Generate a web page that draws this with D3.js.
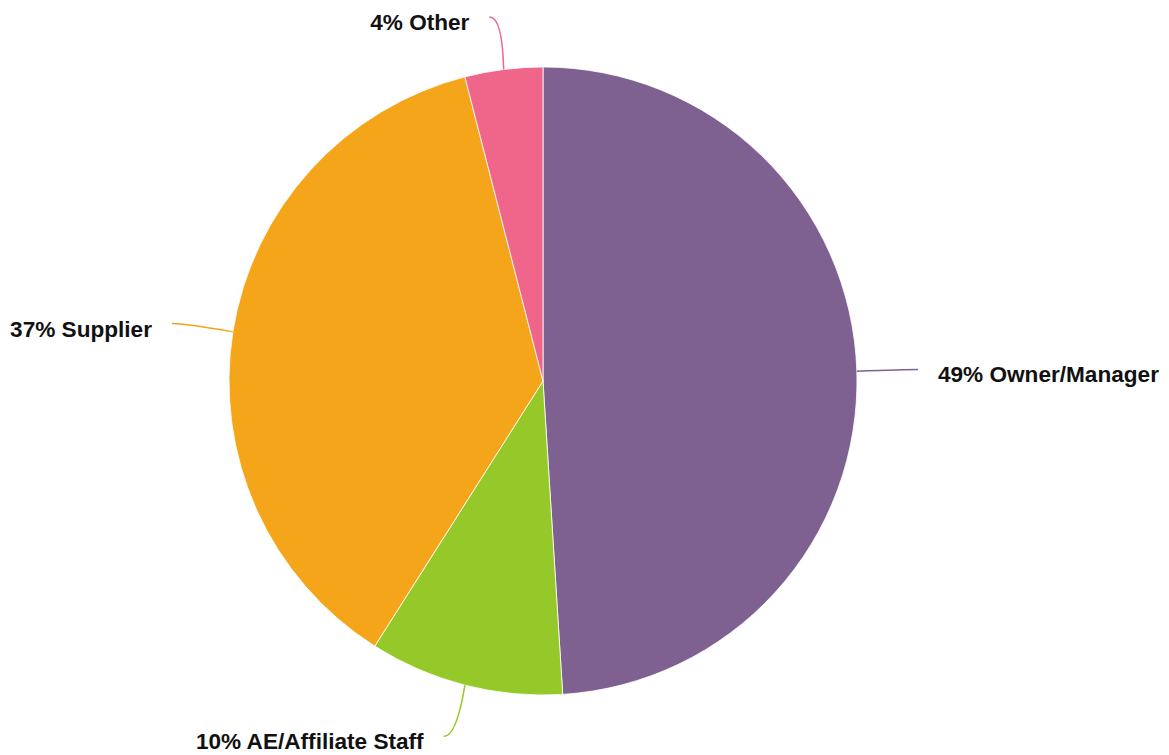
<!DOCTYPE html>
<html>
<head>
<meta charset="utf-8">
<script src="https://cdn.jsdelivr.net/npm/d3@7"></script>
<style>
  html, body { margin: 0; padding: 0; background: #fff; }
  svg { display: block; }
  .lbl { font-family: "Liberation Sans", Arial, Helvetica, sans-serif; font-weight: bold; font-size: 22.6px; fill: #111; }
</style>
</head>
<body>
<svg id="chart" width="1169" height="755"></svg>
<script>
// Respondent roles, in clockwise order from 12 o'clock
const categories = ["Owner/Manager", "AE/Affiliate Staff", "Supplier", "Other"];
const values = [49, 10, 37, 4];
const colors = ["#7e6190", "#95c829", "#f4a51a", "#f0658a"];

const W = 1169, H = 755;
const cx = 543, cy = 381, R = 314;

const svg = d3.select("#chart");
const g = svg.append("g").attr("transform", `translate(${cx},${cy})`);

const pie = d3.pie().sort(null).value(d => d.value);
const arcs = pie(categories.map((c, i) => ({ name: c, value: values[i], color: colors[i] })));
const arc = d3.arc().innerRadius(0).outerRadius(R);

g.selectAll("path.slice")
  .data(arcs)
  .join("path")
  .attr("class", "slice")
  .attr("d", arc)
  .attr("fill", d => d.data.color)
  .attr("stroke", "#fff")
  .attr("stroke-width", 0.8)
  .attr("stroke-linejoin", "round");

arcs.forEach(d => {
  const mid = (d.startAngle + d.endAngle) / 2;
  const s = Math.sin(mid), c0 = Math.cos(mid);
  const right = s > 0;
  const dir = right ? 1 : -1;
  const p0 = [R * s, -R * c0];
  // connector end on a slightly flattened ring, nudged toward the label side
  const e = [(R + 58) * s + dir * (3 + 4 * Math.abs(c0)), -(R + 53) * c0];
  // control point pulled horizontally toward the pie so the connector ends level
  const c = [e[0] - dir * 13, e[1]];
  g.append("path")
    .attr("d", `M${p0[0]},${p0[1]} Q${c[0]},${c[1]} ${e[0]},${e[1]}`)
    .attr("fill", "none")
    .attr("stroke", d.data.color)
    .attr("stroke-width", 1.5);
  g.append("text")
    .attr("class", "lbl")
    .attr("x", e[0] + dir * 20)
    .attr("y", e[1] + 13)
    .attr("text-anchor", right ? "start" : "end")
    .text(`${d.data.value}% ${d.data.name}`);
});
</script>
</body>
</html>
